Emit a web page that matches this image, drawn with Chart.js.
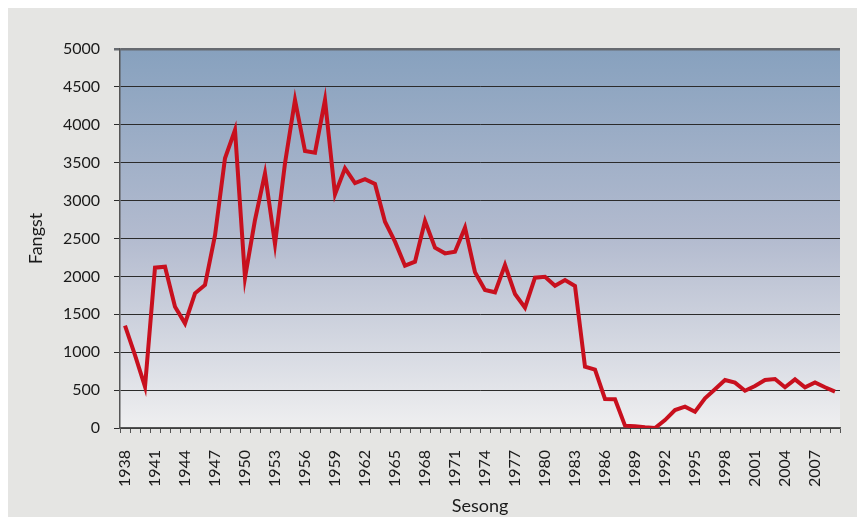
<!DOCTYPE html>
<html>
<head>
<meta charset="utf-8">
<script src="https://cdn.jsdelivr.net/npm/chart.js@4"></script>
<style>
  html, body { margin: 0; padding: 0; background: #fff; }
  #wrap { width: 857px; height: 517px; }
</style>
</head>
<body>
<div id="wrap"><canvas id="chart" width="857" height="517"></canvas></div>
<script>
// Sesong 1938 - 2009
const years = [];
for (let y = 1938; y <= 2009; y++) years.push(String(y));

const fangst = [
  1350, 960, 545, 2115, 2128, 1600, 1380, 1777, 1887, 2540,   // 1938-1947
  3558, 3931, 1983, 2744, 3360, 2427, 3492, 4327, 3654, 3632, // 1948-1957
  4327, 3083, 3426, 3232, 3283, 3219, 2722, 2458, 2141, 2194, // 1958-1967
  2731, 2379, 2304, 2326, 2643, 2054, 1821, 1790, 2150, 1768, // 1968-1977
  1587, 1983, 1996, 1877, 1952, 1873, 809, 770, 383, 380,     // 1978-1987
  31, 22, 9, 0, 105, 237, 281, 215, 391, 510,                 // 1988-1997
  633, 598, 492, 554, 633, 646, 537, 642, 537, 602,           // 1998-2007
  537, 479                                                    // 2008-2009
];

const yTicks = [0, 500, 1000, 1500, 2000, 2500, 3000, 3500, 4000, 4500, 5000];

const bgPlugin = {
  id: 'bg',
  beforeDraw(chart) {
    const ctx = chart.ctx;
    const a = chart.chartArea;
    ctx.save();
    ctx.fillStyle = '#ffffff';
    ctx.fillRect(0, 0, chart.width, chart.height);
    ctx.fillStyle = '#e5e5e3';
    ctx.fillRect(8, 8, chart.width - 8, chart.height - 8);
    const g = ctx.createLinearGradient(0, a.top, 0, a.bottom);
    g.addColorStop(0, '#87a1be');
    g.addColorStop(0.5, '#b3bbcf');
    g.addColorStop(1, '#efeff0');
    ctx.fillStyle = g;
    ctx.fillRect(a.left, a.top, a.right - a.left, a.bottom - a.top);
    ctx.restore();
  }
};

new Chart(document.getElementById('chart'), {
  type: 'line',
  data: {
    labels: years,
    datasets: [{
      label: 'Fangst',
      data: fangst,
      borderColor: '#c8101e',
      borderWidth: 4,
      pointRadius: 0,
      tension: 0,
      borderJoinStyle: 'miter',
      fill: false
    }]
  },
  options: {
    responsive: false,
    animation: false,
    layout: { padding: { left: 0, right: 17, top: 49, bottom: 0 } },
    plugins: { legend: { display: false }, tooltip: { enabled: false } },
    scales: {
      x: {
        type: 'category',
        offset: true,
        grid: {
          offset: true,
          drawOnChartArea: false,
          drawTicks: true,
          tickLength: 5,
          color: '#555555',
          lineWidth: 1
        },
        border: { display: true, color: '#555555', width: 1.5 },
        ticks: {
          autoSkip: false,
          minRotation: 90,
          maxRotation: 90,
          padding: 17,
          color: '#1a1a1a',
          font: { family: 'Lato', size: 16 },
          callback: function (value, index) {
            return index % 3 === 0 ? years[index] : '';
          }
        },
        title: {
          display: true,
          text: 'Sesong',
          color: '#1a1a1a',
          font: { family: 'Lato', size: 18 },
          padding: { top: 0, bottom: 0 }
        },
        afterFit: function (scale) {
          scale.height = 89;
          scale.paddingLeft = 0;
          scale.paddingRight = 0;
        }
      },
      y: {
        min: 0,
        max: 5000,
        afterBuildTicks: function (scale) {
          scale.ticks = yTicks.map(v => ({ value: v }));
        },
        grid: {
          drawTicks: true,
          tickLength: 6,
          color: function (c) { return c.tick && c.tick.value === 5000 ? '#666a70' : '#2b2b2b'; },
          lineWidth: function (c) { return c.tick && c.tick.value === 5000 ? 2.5 : 1; }
        },
        border: { display: true, color: '#555555', width: 1.5 },
        ticks: {
          padding: 14,
          color: '#1a1a1a',
          font: { family: 'Lato', size: 16 },
          callback: function (value) { return String(value); }
        },
        title: {
          display: true,
          text: 'Fangst',
          color: '#1a1a1a',
          font: { family: 'Lato', size: 18 },
          padding: { top: 25, bottom: 0 }
        },
        afterFit: function (scale) { scale.width = 120; }
      }
    }
  },
  plugins: [bgPlugin]
});
</script>
</body>
</html>
